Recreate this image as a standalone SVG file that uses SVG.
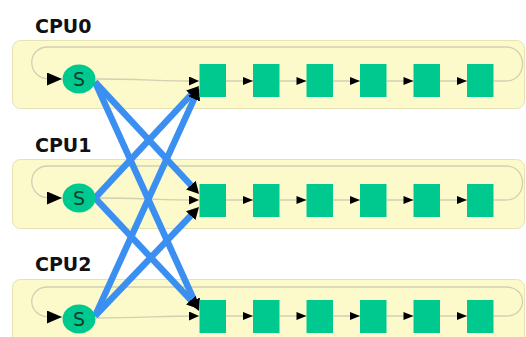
<svg xmlns="http://www.w3.org/2000/svg" width="526" height="337" viewBox="0 0 526 337">
<style>
.panel{fill:#fcfacb;stroke:#e6e2b4;stroke-width:1}
.lbl{font-family:"DejaVu Sans",sans-serif;font-weight:bold;font-size:19px;fill:#111}
.s{fill:#00c98f}
.st{font-family:"DejaVu Sans",sans-serif;font-size:19px;fill:#163c2d;text-anchor:middle}
.sq{fill:#00c98f}
.thin{fill:none;stroke:#d2cfb2;stroke-width:1.3}
.blue{fill:none;stroke:#3a8ff0;stroke-width:6.5}
.ah{fill:#000}
</style>
<defs>
<marker id="a" markerUnits="userSpaceOnUse" markerWidth="11" markerHeight="9" refX="10" refY="4.5" orient="auto"><path d="M0,0 L10,4.5 L0,9 z" fill="#000"/></marker>
<marker id="c" markerUnits="userSpaceOnUse" markerWidth="16" markerHeight="13" refX="15" refY="6.5" orient="auto"><path d="M0,0 L15,6.5 L0,13 z" fill="#000"/></marker>
<marker id="b" markerUnits="userSpaceOnUse" markerWidth="13" markerHeight="13" refX="1" refY="6.5" orient="auto"><path d="M0,0 L12,6.5 L0,13 z" fill="#000"/></marker>
<g id="row">
<polygon class="ah" points="243,-4 253,0 243,4"/>
</g>
</defs>
<g id="panels">
<rect class="panel" x="12.5" y="40.5" width="512" height="68" rx="8"/>
<rect class="panel" x="12.5" y="159.5" width="512" height="69" rx="8"/>
<rect class="panel" x="12.5" y="279.5" width="512" height="75" rx="8"/>
</g>
<g id="labels">
<text class="lbl" x="35" y="33">CPU0</text>
<text class="lbl" x="35" y="152">CPU1</text>
<text class="lbl" x="35" y="271">CPU2</text>
</g>
<g id="connectors">
<path class="thin" d="M493.5,81 L506,81 C528,81 528,47 506,47 L48,47 C26,47 26,79 50,79 L62,79" marker-end="url(#c)"/>
<path class="thin" d="M493.5,200 L506,200 C528,200 528,166 506,166 L48,166 C26,166 26,198 50,198 L62,198" marker-end="url(#c)"/>
<path class="thin" d="M493.5,316 L506,316 C528,316 528,287 506,287 L48,287 C26,287 26,317 50,317 L62,317" marker-end="url(#c)"/>
<path class="thin" d="M96,79 C140,79 160,81 199,81" marker-end="url(#a)"/>
<path class="thin" d="M96,198 C140,198 160,200 199,200" marker-end="url(#a)"/>
<path class="thin" d="M96,318 C140,318 160,316 199,316" marker-end="url(#a)"/>
<g id="chain0">
<path class="thin" d="M226,81 H253 M279.5,81 H306.5 M333,81 H360 M386.5,81 H413.5 M440,81 H467"/>
</g>
<g id="chain1">
<path class="thin" d="M226,200 H253 M279.5,200 H306.5 M333,200 H360 M386.5,200 H413.5 M440,200 H467"/>
</g>
<g id="chain2">
<path class="thin" d="M226,316 H253 M279.5,316 H306.5 M333,316 H360 M386.5,316 H413.5 M440,316 H467"/>
</g>
<g id="heads">
<use href="#row" transform="translate(0,81)"/>
<use href="#row" transform="translate(53.5,81)"/>
<use href="#row" transform="translate(107,81)"/>
<use href="#row" transform="translate(160.5,81)"/>
<use href="#row" transform="translate(214,81)"/>
<use href="#row" transform="translate(0,200)"/>
<use href="#row" transform="translate(53.5,200)"/>
<use href="#row" transform="translate(107,200)"/>
<use href="#row" transform="translate(160.5,200)"/>
<use href="#row" transform="translate(214,200)"/>
<use href="#row" transform="translate(0,316)"/>
<use href="#row" transform="translate(53.5,316)"/>
<use href="#row" transform="translate(107,316)"/>
<use href="#row" transform="translate(160.5,316)"/>
<use href="#row" transform="translate(214,316)"/>
</g>
<line class="blue" x1="95" y1="82" x2="191.6" y2="185.9" marker-end="url(#b)"/>
<line class="blue" x1="95" y1="82" x2="194.5" y2="301" marker-end="url(#b)"/>
<line class="blue" x1="95" y1="198" x2="191.6" y2="94.1" marker-end="url(#b)"/>
<line class="blue" x1="95" y1="198" x2="191.5" y2="300.9" marker-end="url(#b)"/>
<line class="blue" x1="95" y1="316" x2="194.5" y2="98" marker-end="url(#b)"/>
<line class="blue" x1="95" y1="316" x2="191.4" y2="215" marker-end="url(#b)"/>
</g>
<g id="s0"><ellipse class="s" cx="79" cy="79" rx="16.5" ry="14.5"/><text class="st" x="79" y="86">S</text></g>
<g id="s1"><ellipse class="s" cx="79" cy="198" rx="16.5" ry="14.5"/><text class="st" x="79" y="205">S</text></g>
<g id="s2"><ellipse class="s" cx="79" cy="319" rx="16.5" ry="14.5"/><text class="st" x="79" y="326">S</text></g>
<g id="r0n0"><rect class="sq" x="199.5" y="64" width="26.5" height="33"/></g>
<g id="r0n1"><rect class="sq" x="253" y="64" width="26.5" height="33"/></g>
<g id="r0n2"><rect class="sq" x="306.5" y="64" width="26.5" height="33"/></g>
<g id="r0n3"><rect class="sq" x="360" y="64" width="26.5" height="33"/></g>
<g id="r0n4"><rect class="sq" x="413.5" y="64" width="26.5" height="33"/></g>
<g id="r0n5"><rect class="sq" x="467" y="64" width="26.5" height="33"/></g>
<g id="r1n0"><rect class="sq" x="199.5" y="184" width="26.5" height="33"/></g>
<g id="r1n1"><rect class="sq" x="253" y="184" width="26.5" height="33"/></g>
<g id="r1n2"><rect class="sq" x="306.5" y="184" width="26.5" height="33"/></g>
<g id="r1n3"><rect class="sq" x="360" y="184" width="26.5" height="33"/></g>
<g id="r1n4"><rect class="sq" x="413.5" y="184" width="26.5" height="33"/></g>
<g id="r1n5"><rect class="sq" x="467" y="184" width="26.5" height="33"/></g>
<g id="r2n0"><rect class="sq" x="199.5" y="300" width="26.5" height="33"/></g>
<g id="r2n1"><rect class="sq" x="253" y="300" width="26.5" height="33"/></g>
<g id="r2n2"><rect class="sq" x="306.5" y="300" width="26.5" height="33"/></g>
<g id="r2n3"><rect class="sq" x="360" y="300" width="26.5" height="33"/></g>
<g id="r2n4"><rect class="sq" x="413.5" y="300" width="26.5" height="33"/></g>
<g id="r2n5"><rect class="sq" x="467" y="300" width="26.5" height="33"/></g>
</svg>
